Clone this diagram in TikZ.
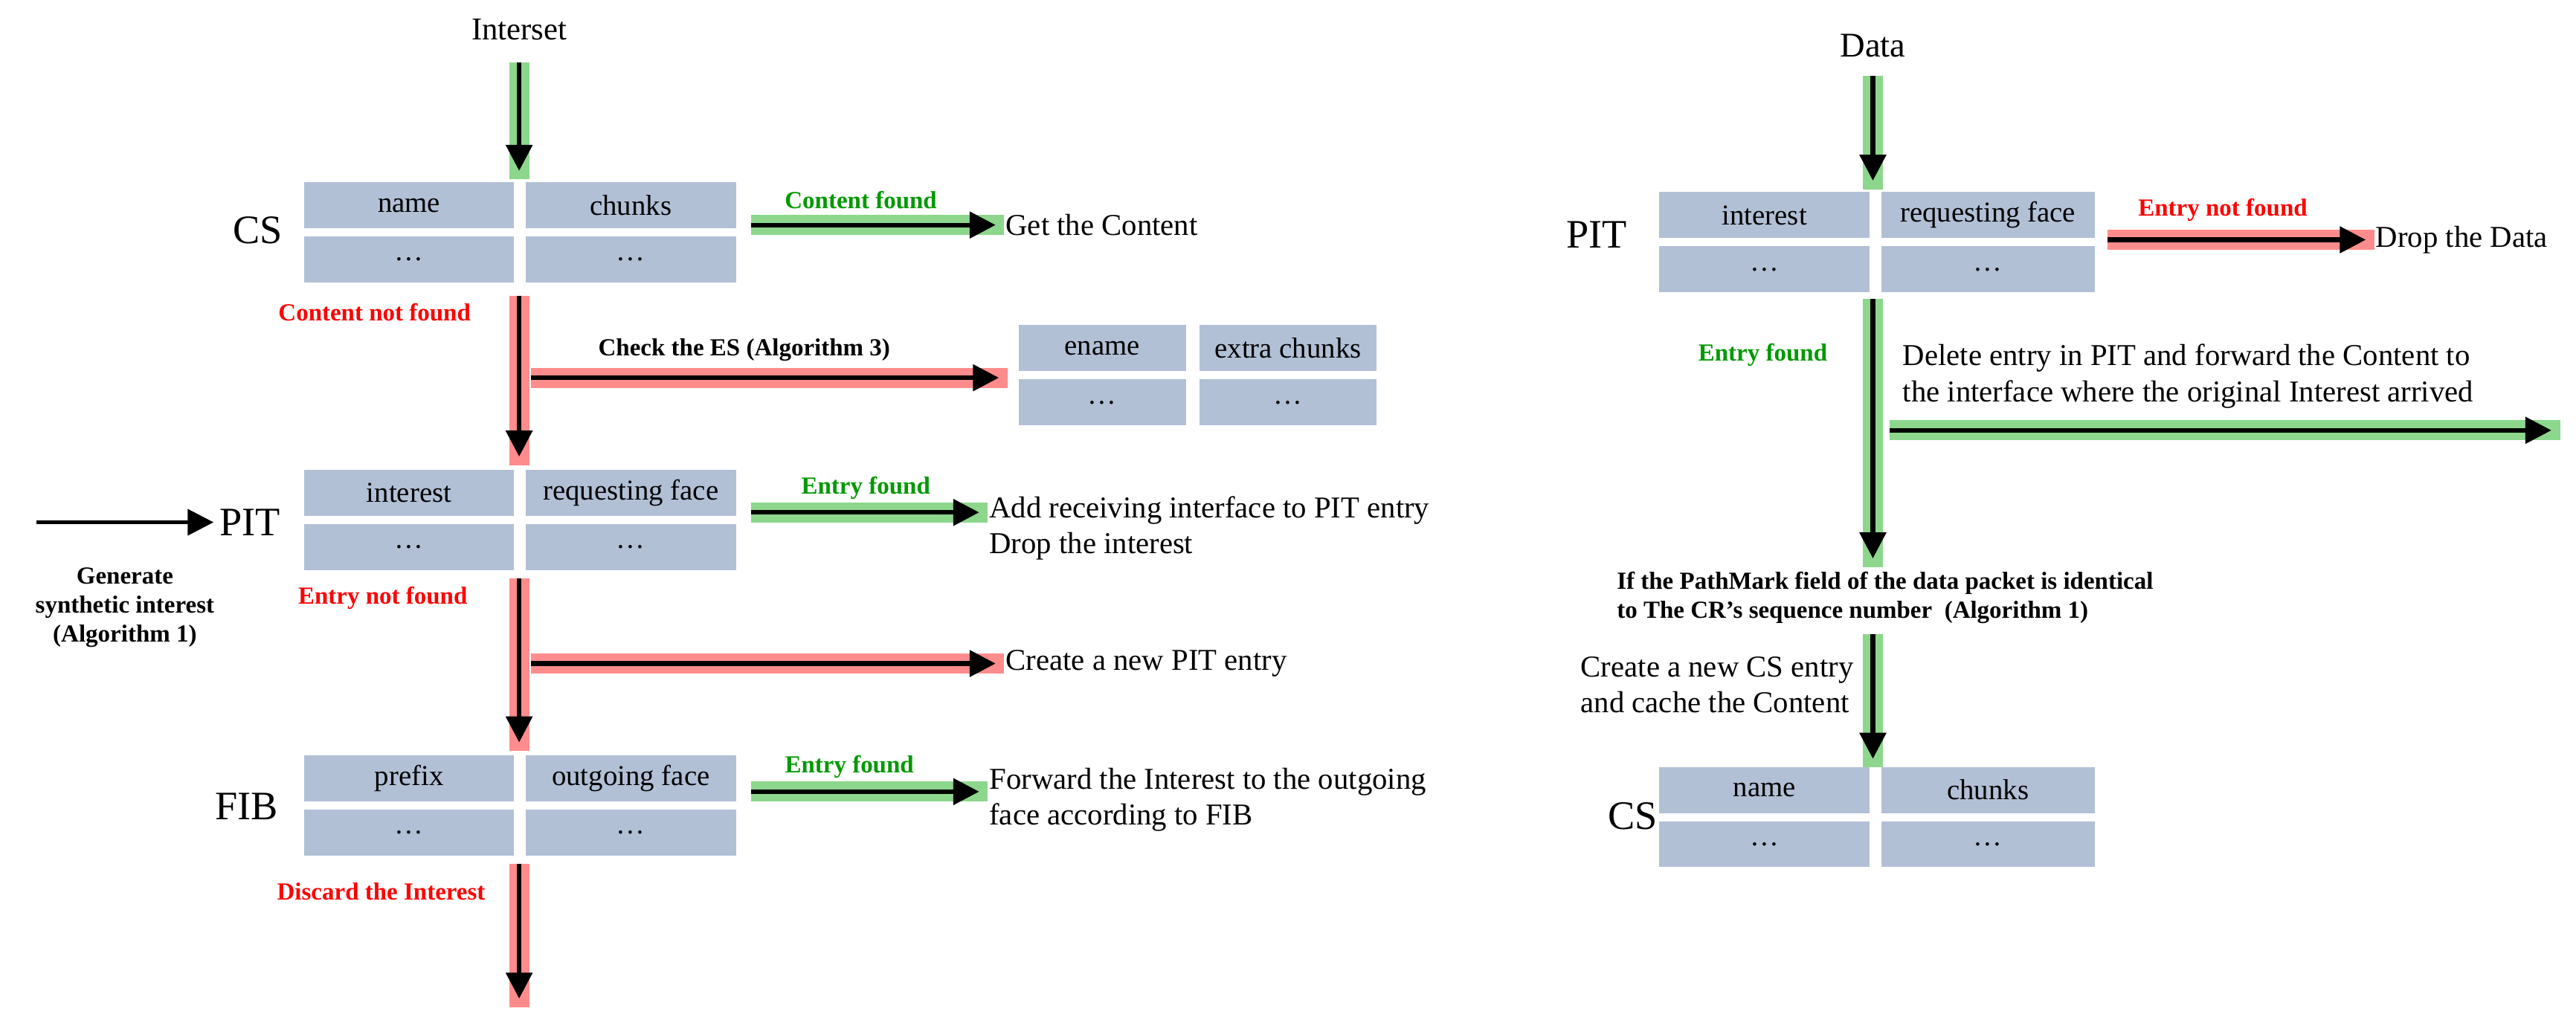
\documentclass[tikz,border=0pt]{standalone}
\usepackage{fontspec}
\setmainfont{Liberation Serif}
\usetikzlibrary{arrows.meta,positioning}
\definecolor{cellblue}{RGB}{178,192,214}
\colorlet{glowgreen}{green!65!black!60}
\colorlet{glowred}{red!60}
\tikzset{
  cell/.style={fill=cellblue,minimum height=0.56cm,inner sep=0pt,font=\fontsize{10}{11}\selectfont},
  tname/.style={font=\fontsize{14}{16}\selectfont},
  msg/.style={font=\fontsize{10.5}{12.5}\selectfont,align=left,anchor=west},
  lab/.style={font=\bfseries\fontsize{8.5}{10}\selectfont},
  pass/.style={draw=glowgreen,draw opacity=.75,line width=7pt},
  fail/.style={draw=glowred,draw opacity=.75,line width=7pt},
  flow/.style={draw=black,line width=1.6pt,-{Triangle[length=9pt,width=9pt]}}
}
\newcommand{\glowarrow}[3]{\path[#1,shorten >=-3pt] (#2) -- (#3); \path[flow] (#2) -- (#3);}
\begin{document}
\begin{tikzpicture}[x=0.02cm,y=-0.02cm]
\useasboundingbox (0,0) rectangle (1568,619);
% tables (left)
\foreach \t/\y/\a/\b in {cs/125/name/chunks, pit/300/interest/requesting face, fib/474/prefix/outgoing face}{
  \node[cell,minimum width=2.56cm] (\t a) at (249,\y) {\a};
  \node[cell,minimum width=2.56cm] (\t b) at (384,\y) {\b};
  \node[cell,minimum width=2.56cm] (\t c) at (249,\y+33) {\dots};
  \node[cell,minimum width=2.56cm] (\t d) at (384,\y+33) {\dots};
}
\node[cell,minimum width=2.04cm] (esa) at (671,212) {ename};
\node[cell,minimum width=2.16cm] (esb) at (784,212) {extra chunks};
\node[cell,minimum width=2.04cm] (esc) at (671,245) {\dots};
\node[cell,minimum width=2.16cm] (esd) at (784,245) {\dots};
% tables (right)
\foreach \t/\y/\a/\b in {rpit/131/interest/requesting face, rcs/481/name/chunks}{
  \node[cell,minimum width=2.56cm] (\t a) at (1074,\y) {\a};
  \node[cell,minimum width=2.6cm] (\t b) at (1210,\y) {\b};
  \node[cell,minimum width=2.56cm] (\t c) at (1074,\y+33) {\dots};
  \node[cell,minimum width=2.6cm] (\t d) at (1210,\y+33) {\dots};
}
% table names
\node[tname] (lcs) at (157,140) {CS};
\node[tname] (lpit) at (152,318) {PIT};
\node[tname] (lfib) at (150,491) {FIB};
\node[tname] (rpit) at (972,143) {PIT};
\node[tname] (rcs) at (994,497) {CS};
\node[font=\fontsize{11}{13}\selectfont] (interest) at (316,18) {Interset};
\node[font=\fontsize{12}{14}\selectfont] (data) at (1140,28) {Data};
% coordinates
\coordinate (i0) at (316,38);   \coordinate (i1) at (316,104);
\coordinate (c0) at (457,137);  \coordinate (c1) at (606,137);
\coordinate (n0) at (316,180);  \coordinate (n1) at (316,278);
\coordinate (e0) at (323,230);  \coordinate (e1) at (608,230);
\coordinate (g0) at (22,318);   \coordinate (g1) at (130,318);
\coordinate (p0) at (457,312);  \coordinate (p1) at (596,312);
\coordinate (m0) at (316,352);  \coordinate (m1) at (316,452);
\coordinate (k0) at (323,404);  \coordinate (k1) at (606,404);
\coordinate (f0) at (457,482);  \coordinate (f1) at (596,482);
\coordinate (d0) at (316,526);  \coordinate (d1) at (316,608);
\coordinate (a0) at (1140,46);  \coordinate (a1) at (1140,110);
\coordinate (r0) at (1283,146); \coordinate (r1) at (1440,146);
\coordinate (v0) at (1140,182); \coordinate (v1) at (1140,340);
\coordinate (h0) at (1150,262); \coordinate (h1) at (1553,262);
\coordinate (w0) at (1140,386); \coordinate (w1) at (1140,462);
% connectors
\glowarrow{pass}{i0}{i1}
\glowarrow{pass}{c0}{c1}
\glowarrow{fail}{n0}{n1}
\glowarrow{fail}{e0}{e1}
\path[flow,line width=1.2pt] (g0) -- (g1);
\glowarrow{pass}{p0}{p1}
\glowarrow{fail}{m0}{m1}
\glowarrow{fail}{k0}{k1}
\glowarrow{pass}{f0}{f1}
\glowarrow{fail}{d0}{d1}
\glowarrow{pass}{a0}{a1}
\glowarrow{fail}{r0}{r1}
\glowarrow{pass}{v0}{v1}
\glowarrow{pass}{h0}{h1}
\glowarrow{pass}{w0}{w1}
% labels
\node[lab,text=green!60!black] at (524,122) {Content found};
\node[lab,text=red] at (228,190) {Content not found};
\node[lab] at (453,213) {Check the ES (Algorithm 3)};
\node[lab,text=green!60!black] at (527,297) {Entry found};
\node[lab,text=red] at (233,364) {Entry not found};
\node[lab,text=green!60!black] at (517,467) {Entry found};
\node[lab,text=red] at (232,543) {Discard the Interest};
\node[lab,align=center] at (76,370) {Generate\\synthetic interest\\(Algorithm 1)};
\node[lab,text=red] at (1353,128) {Entry not found};
\node[lab,text=green!60!black] at (1073,216) {Entry found};
\node[lab,align=left,anchor=west] at (978,364) {If the PathMark field of the data packet is identical\\to The CR’s sequence number \ (Algorithm 1)};
% messages
\node[msg] at (c1) {Get the Content};
\node[msg] at (p1) [yshift=-0.19cm] {Add receiving interface to PIT entry\\Drop the interest};
\node[msg] at (k1) {Create a new PIT entry};
\node[msg] at (f1) [yshift=-0.1cm] {Forward the Interest to the outgoing\\face according to FIB};
\node[msg] at (r1) {Drop the Data};
\node[msg] at (1152,229) {Delete entry in PIT and forward the Content to\\the interface where the original Interest arrived};
\node[msg] at (956,417) {Create a new CS entry\\and cache the Content};
\end{tikzpicture}
\end{document}
